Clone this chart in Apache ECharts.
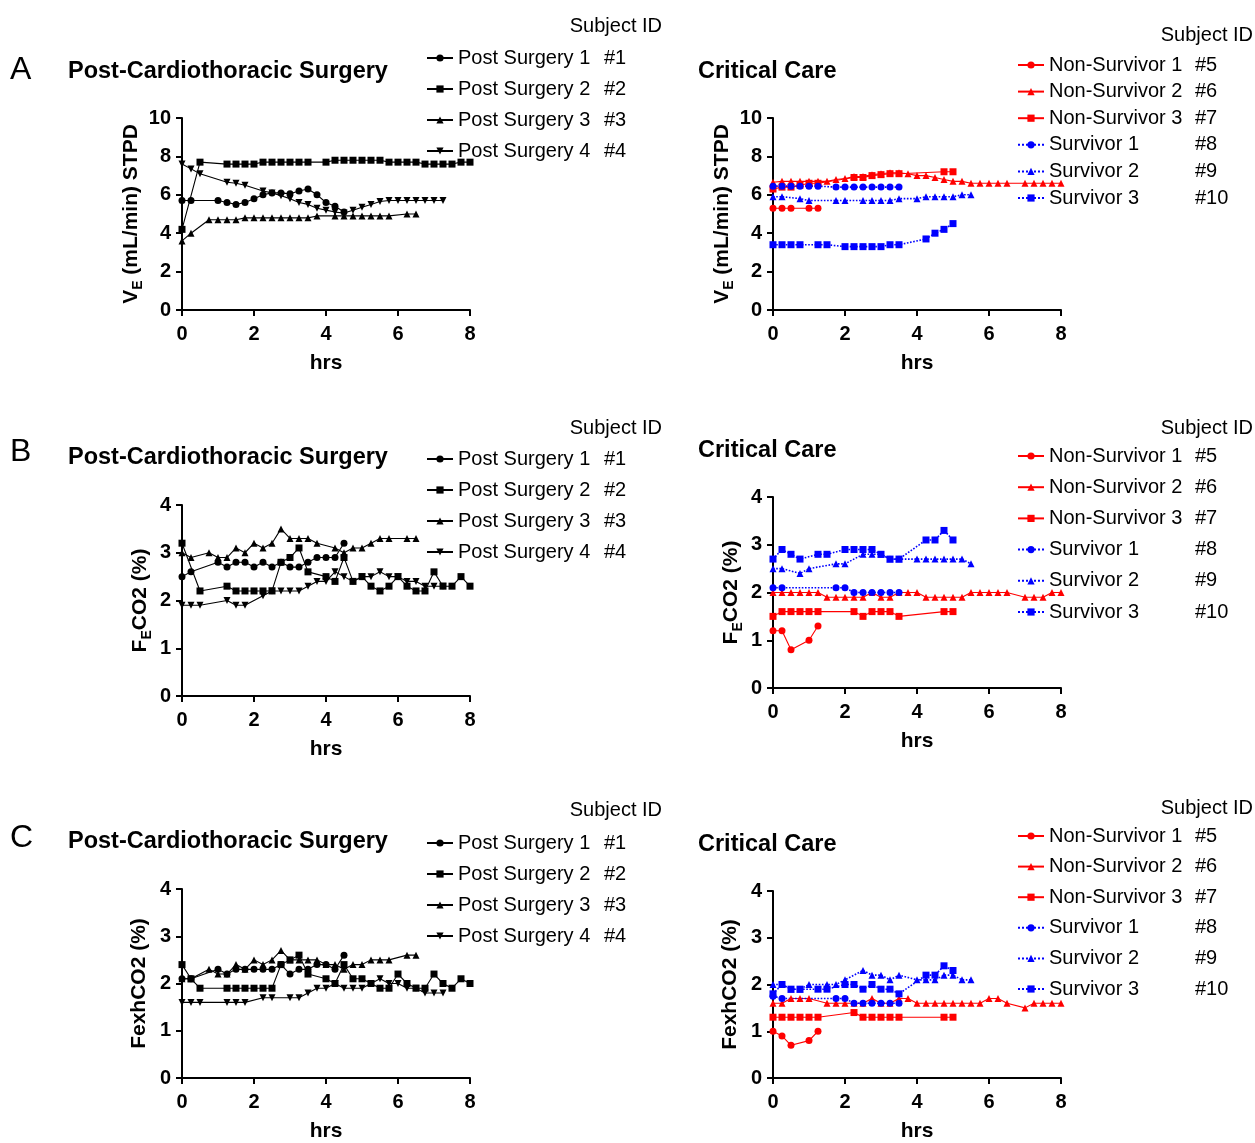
<!DOCTYPE html>
<html><head><meta charset="utf-8">
<script src="https://cdn.jsdelivr.net/npm/echarts/dist/echarts.min.js"></script>
<style>html,body{margin:0;padding:0;background:#fff}#c{width:1255px;height:1143px}</style>
</head><body><div id="c"></div>
<script>
const _ = null;
const hours = [0,0.25,0.5,0.75,1,1.25,1.5,1.75,2,2.25,2.5,2.75,3,3.25,3.5,3.75,4,4.25,4.5,4.75,5,5.25,5.5,5.75,6,6.25,6.5,6.75,7,7.25,7.5,7.75,8];
const xTicks = [0,2,4,6,8];

// Panel A: VE (mL/min) STPD
const vePS1 = [5.7,5.7,_,_,5.7,5.6,5.5,5.6,5.8,6.0,6.1,6.1,6.05,6.2,6.3,6.0,5.6,5.4,5.1];
const vePS2 = [4.2,_,7.7,_,_,7.6,7.6,7.6,7.6,7.7,7.7,7.7,7.7,7.7,7.7,_,7.7,7.8,7.8,7.8,7.8,7.8,7.8,7.7,7.7,7.7,7.7,7.6,7.6,7.6,7.6,7.7,7.7];
const vePS3 = [3.6,4.0,_,4.7,4.7,4.7,4.7,4.8,4.8,4.8,4.8,4.8,4.8,4.8,4.8,4.9,_,4.9,4.9,4.9,4.9,4.9,4.9,4.9,_,5.0,5.0];
const vePS4 = [7.6,7.35,7.1,_,_,6.65,6.6,6.5,_,6.2,6.1,5.95,5.8,5.6,5.5,5.3,5.2,5.1,5.05,5.2,5.35,5.5,5.65,5.7,5.7,5.7,5.7,5.7,5.7,5.7];
const veNS1 = [5.3,5.3,5.3,_,5.3,5.3];
const veNS2 = [6.65,6.7,6.7,6.7,6.7,6.7,6.7,6.8,6.85,6.95,6.95,7.05,7.1,7.15,7.15,7.1,7.0,7.0,6.9,6.8,6.7,6.7,6.6,6.6,6.6,6.6,6.6,_,6.6,6.6,6.6,6.6,6.6];
const veNS3 = [6.3,6.4,6.4,6.5,6.6,6.6,_,_,_,6.9,6.9,7.0,7.05,7.1,7.1,_,_,_,_,7.2,7.2];
const veS1 = [6.45,6.45,6.45,6.45,6.45,6.45,_,6.4,6.4,6.4,6.4,6.4,6.4,6.4,6.4];
const veS2 = [5.9,5.9,_,5.8,5.7,_,_,5.7,5.7,_,5.7,5.7,5.7,5.7,5.8,_,5.8,5.9,5.9,5.9,5.9,6.0,6.0];
const veS3 = [3.4,3.4,3.4,3.4,_,3.4,3.4,_,3.3,3.3,3.3,3.3,3.3,3.4,3.4,_,_,3.7,4.0,4.2,4.5];

// Panel B: FECO2 (%)
const fePS1 = [2.5,2.6,_,_,2.8,2.7,2.8,2.8,2.7,2.8,2.7,2.8,2.7,2.7,2.8,2.9,2.9,2.9,3.2];
const fePS2 = [3.2,_,2.2,_,_,2.3,2.2,2.2,2.2,2.2,2.2,2.8,2.9,3.1,2.6,_,2.5,2.4,2.9,2.4,2.5,2.3,2.2,2.3,2.5,2.3,2.2,2.2,2.6,2.3,2.3,2.5,2.3];
const fePS3 = [3.0,2.9,_,3.0,2.9,2.9,3.1,3.0,3.2,3.1,3.2,3.5,3.3,3.3,3.3,3.2,_,3.1,3.0,3.1,3.1,3.2,3.3,3.3,_,3.3,3.3];
const fePS4 = [1.9,1.9,1.9,_,_,2.0,1.9,1.9,_,2.1,2.2,2.2,2.2,2.2,2.3,2.4,2.4,2.6,2.5,2.4,2.5,2.5,2.6,2.5,2.5,2.4,2.4,2.3,2.3,2.3];
const feNS1 = [1.2,1.2,0.8,_,1.0,1.3];
const feNS2 = [2.0,2.0,2.0,2.0,2.0,2.0,1.9,1.9,1.9,1.9,1.9,2.0,1.9,1.9,2.0,2.0,2.0,1.9,1.9,1.9,1.9,1.9,2.0,2.0,2.0,2.0,2.0,_,1.9,1.9,1.9,2.0,2.0];
const feNS3 = [1.5,1.6,1.6,1.6,1.6,1.6,_,_,_,1.6,1.5,1.6,1.6,1.6,1.5,_,_,_,_,1.6,1.6];
const feS1 = [2.1,2.1,_,_,_,_,_,2.1,2.1,2.0,2.0,2.0,2.0,2.0,2.0];
const feS2 = [2.5,2.5,_,2.4,2.5,_,_,2.6,2.6,_,2.8,2.8,2.8,2.7,2.7,_,2.7,2.7,2.7,2.7,2.7,2.7,2.6];
const feS3 = [2.7,2.9,2.8,2.7,_,2.8,2.8,_,2.9,2.9,2.9,2.9,2.8,2.7,2.7,_,_,3.1,3.1,3.3,3.1];

// Panel C: FexhCO2 (%)
const fxPS1 = [2.1,2.1,_,_,2.3,2.2,2.3,2.3,2.3,2.3,2.3,2.4,2.2,2.3,2.3,2.4,2.4,2.3,2.6];
const fxPS2 = [2.4,2.1,1.9,_,_,1.9,1.9,1.9,1.9,1.9,1.9,2.4,2.5,2.6,2.2,_,2.1,2.0,2.4,2.1,2.1,2.0,1.9,1.9,2.2,2.0,1.9,1.9,2.2,2.0,1.9,2.1,2.0];
const fxPS3 = [2.1,2.1,_,2.3,2.2,2.2,2.4,2.3,2.5,2.4,2.5,2.7,2.5,2.5,2.5,2.5,2.4,2.4,2.3,2.4,2.4,2.5,2.5,2.5,_,2.6,2.6];
const fxPS4 = [1.6,1.6,1.6,_,_,1.6,1.6,1.6,_,1.7,1.7,_,1.7,1.7,1.8,1.9,1.9,2.0,1.9,1.9,1.9,2.0,2.1,2.0,2.0,1.9,1.9,1.8,1.8,1.8];
const fxNS1 = [1.0,0.9,0.7,_,0.8,1.0];
const fxNS2 = [1.6,1.6,1.7,1.7,1.7,_,1.6,1.6,1.6,1.6,1.6,1.7,1.6,1.6,1.7,1.7,1.6,1.6,1.6,1.6,1.6,1.6,1.6,1.6,1.7,1.7,1.6,_,1.5,1.6,1.6,1.6,1.6];
const fxNS3 = [1.3,1.3,1.3,1.3,1.3,1.3,_,_,_,1.4,1.3,1.3,1.3,1.3,1.3,_,_,_,_,1.3,1.3];
const fxS1 = [1.75,1.7,_,_,_,_,_,1.7,1.7,1.6,1.6,1.6,1.6,1.6,1.6];
const fxS2 = [2.0,2.0,1.9,1.9,2.0,_,2.0,2.0,2.1,_,2.3,2.2,2.2,2.1,2.2,_,2.1,2.1,2.1,2.2,2.2,2.1,2.1];
const fxS3 = [1.8,2.0,1.9,1.9,_,1.9,1.9,_,2.0,2.0,1.9,2.0,1.9,1.9,1.8,_,_,2.2,2.2,2.4,2.3];

const surgeryNames = ['Post Surgery 1','Post Surgery 2','Post Surgery 3','Post Surgery 4'];
const careNames = ['Non-Survivor 1','Non-Survivor 2','Non-Survivor 3','Survivor 1','Survivor 2','Survivor 3'];
const subjectIds = {'Post Surgery 1':'#1','Post Surgery 2':'#2','Post Surgery 3':'#3','Post Surgery 4':'#4',
  'Non-Survivor 1':'#5','Non-Survivor 2':'#6','Non-Survivor 3':'#7','Survivor 1':'#8','Survivor 2':'#9','Survivor 3':'#10'};

const FF = '"Liberation Sans", Arial, Helvetica, sans-serif';
const RED = '#ff0000', BLUE = '#0000ff', BLK = '#000000';
const styleOf = {
  'Post Surgery 1': {c:BLK, sym:'circle', size:7, rot:0, dash:'solid'},
  'Post Surgery 2': {c:BLK, sym:'rect', size:7, rot:0, dash:'solid'},
  'Post Surgery 3': {c:BLK, sym:'triangle', size:7, rot:0, dash:'solid'},
  'Post Surgery 4': {c:BLK, sym:'triangle', size:7, rot:180, dash:'solid'},
  'Non-Survivor 1': {c:RED, sym:'circle', size:7, rot:0, dash:'solid'},
  'Non-Survivor 2': {c:RED, sym:'triangle', size:7, rot:0, dash:'solid'},
  'Non-Survivor 3': {c:RED, sym:'rect', size:7, rot:0, dash:'solid'},
  'Survivor 1': {c:BLUE, sym:'circle', size:7, rot:0, dash:'dotted'},
  'Survivor 2': {c:BLUE, sym:'triangle', size:7, rot:0, dash:'dotted'},
  'Survivor 3': {c:BLUE, sym:'rect', size:7, rot:0, dash:'dotted'}
};

const panels = [
  {grid:{left:182,top:118,width:288,height:192}, ymax:10, yint:2, yname:'{b|V}{s|E}{b| (mL/min) STPD}', ygap:35,
    names:surgeryNames, data:[vePS1,vePS2,vePS3,vePS4], legend:{left:426,top:48,gap:11}},
  {grid:{left:773,top:118,width:288,height:192}, ymax:10, yint:2, yname:'{b|V}{s|E}{b| (mL/min) STPD}', ygap:35,
    names:careNames, data:[veNS1,veNS2,veNS3,veS1,veS2,veS3], legend:{left:1017,top:55,gap:6.6}},
  {grid:{left:182,top:505,width:288,height:191}, ymax:4, yint:1, yname:'{b|F}{s|E}{b|CO2 (%)}', ygap:28,
    names:surgeryNames, data:[fePS1,fePS2,fePS3,fePS4], legend:{left:426,top:449,gap:11}},
  {grid:{left:773,top:497,width:288,height:191}, ymax:4, yint:1, yname:'{b|F}{s|E}{b|CO2 (%)}', ygap:28,
    names:careNames, data:[feNS1,feNS2,feNS3,feS1,feS2,feS3], legend:{left:1017,top:446,gap:11.2}},
  {grid:{left:182,top:889,width:288,height:191}, ymax:4, yint:1, yname:'{b|FexhCO2 (%)}', ygap:29,
    names:surgeryNames, data:[fxPS1,fxPS2,fxPS3,fxPS4], legend:{left:426,top:833,gap:11}},
  {grid:{left:773,top:891,width:288,height:191}, ymax:4, yint:1, yname:'{b|FexhCO2 (%)}', ygap:29,
    names:careNames, data:[fxNS1,fxNS2,fxNS3,fxS1,fxS2,fxS3], legend:{left:1017,top:826,gap:10.6}}
];

const axisCommon = {
  axisLine:{onZero:false, lineStyle:{color:BLK,width:2}},
  axisTick:{length:6, lineStyle:{color:BLK,width:2}},
  splitLine:{show:false}
};
const labelStyle = {fontSize:20,fontWeight:'bold',color:BLK,fontFamily:FF};

const grids=[], xAxes=[], yAxes=[], series=[], legends=[];
panels.forEach((p,gi)=>{
  grids.push(Object.assign({containLabel:false}, p.grid));
  xAxes.push(Object.assign({}, axisCommon, {type:'value', gridIndex:gi, min:0, max:8, interval:2,
    name:'hrs', nameLocation:'middle', nameGap:43, nameTextStyle:Object.assign({}, labelStyle, {fontSize:21}),
    axisLabel:Object.assign({margin:14, formatter: v => xTicks.includes(v) ? String(v) : ''}, labelStyle)}));
  yAxes.push(Object.assign({}, axisCommon, {type:'value', gridIndex:gi, min:0, max:p.ymax, interval:p.yint,
    name:p.yname, nameLocation:'middle', nameRotate:90, nameGap:p.ygap,
    nameTextStyle:{rich:{
      b:{fontSize:21,fontWeight:'bold',color:BLK,fontFamily:FF,lineHeight:28,verticalAlign:'middle'},
      s:{fontSize:14,fontWeight:'bold',color:BLK,fontFamily:FF,lineHeight:12,verticalAlign:'bottom'}}},
    axisLabel:Object.assign({margin:11}, labelStyle)}));
  p.names.forEach((nm,k)=>{
    const st = styleOf[nm];
    series.push({type:'line', name:nm, xAxisIndex:gi, yAxisIndex:gi,
      data: p.data[k].map((v,i)=>[hours[i], v]).filter(d => d[1] !== null),
      symbol:st.sym, symbolSize:st.size, symbolRotate:st.rot, showAllSymbol:true, clip:false,
      color:st.c, lineStyle:{color:st.c, width: st.dash==='dotted'?1.6:1.1, type:st.dash},
      itemStyle:{color:st.c}, emphasis:{disabled:true}, animation:false, z:3});
  });
  legends.push({orient:'vertical', left:p.legend.left, top:p.legend.top, itemGap:p.legend.gap,
    itemWidth:26, itemHeight:9, padding:0, selectedMode:false, data:p.names.slice(),
    formatter: n => '{n|' + n + '}{id|' + subjectIds[n] + '}',
    textStyle:{color:BLK, fontSize:20, fontFamily:FF, rich:{
      n:{width:146, fontSize:20, fontFamily:FF, color:BLK, lineHeight:22},
      id:{fontSize:20, fontFamily:FF, color:BLK, lineHeight:22}}}});
});

function txt(x, y, s, size, weight, align){
  return {type:'text', x:x, y:y, silent:true, style:{text:s, fill:BLK, font: weight+' '+size+'px '+FF, align:align||'left', verticalAlign:'middle'}};
}
const graphics = [
  txt(10,70,'A',32,'normal'), txt(10,452,'B',32,'normal'), txt(10,838,'C',32,'normal'),
  txt(68,72,'Post-Cardiothoracic Surgery',23.5,'bold'), txt(698,72,'Critical Care',23.5,'bold'),
  txt(68,458,'Post-Cardiothoracic Surgery',23.5,'bold'), txt(698,451,'Critical Care',23.5,'bold'),
  txt(68,842,'Post-Cardiothoracic Surgery',23.5,'bold'), txt(698,845,'Critical Care',23.5,'bold'),
  txt(662,26,'Subject ID',20,'normal','right'), txt(1253,35,'Subject ID',20,'normal','right'),
  txt(662,428,'Subject ID',20,'normal','right'), txt(1253,428,'Subject ID',20,'normal','right'),
  txt(662,810,'Subject ID',20,'normal','right'), txt(1253,808,'Subject ID',20,'normal','right')
];

const chart = echarts.init(document.getElementById('c'), null, {renderer:'canvas'});
chart.setOption({
  animation:false, backgroundColor:'#ffffff',
  grid:grids, xAxis:xAxes, yAxis:yAxes, series:series, legend:legends,
  graphic:graphics
});
</script>
</body></html>
